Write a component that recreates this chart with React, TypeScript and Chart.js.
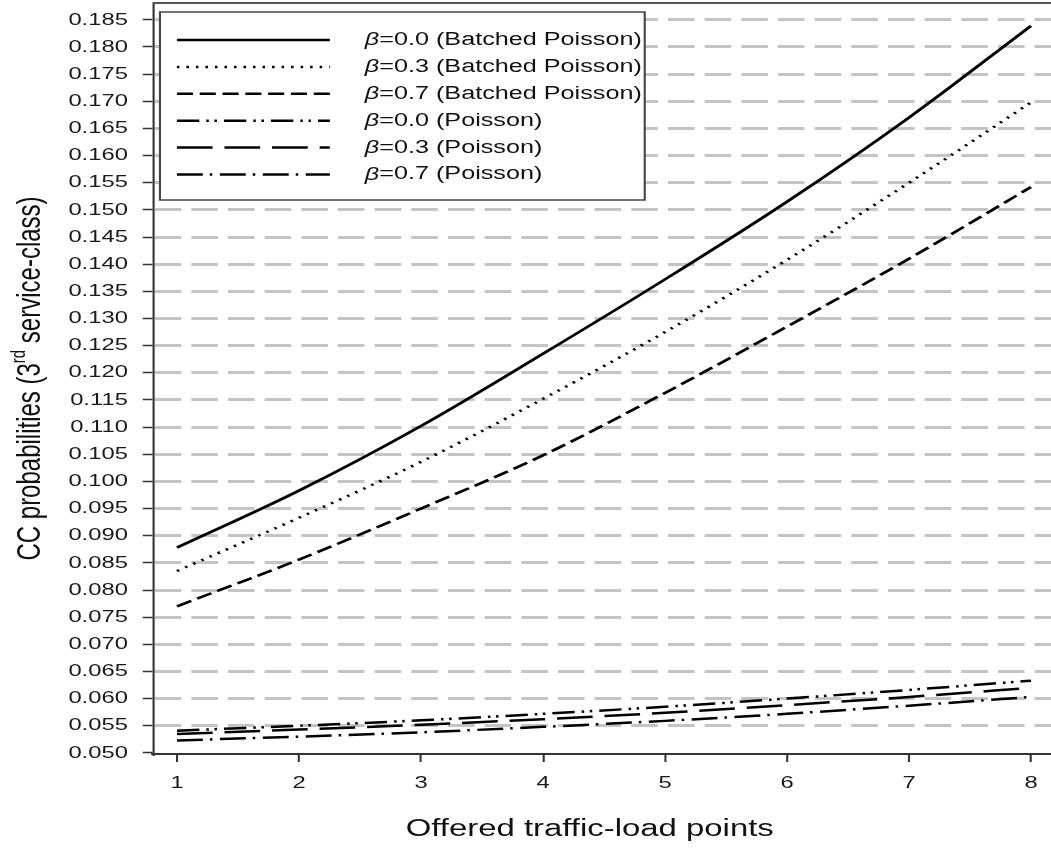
import React, { useEffect, useRef } from 'react';
import { Chart, registerables } from 'chart.js';

Chart.register(...registerables);

// ---- data ----
const loads = [1, 2, 3, 4, 5, 6, 7, 8];
const batched00 = [0.0878, 0.0983, 0.1102, 0.1235, 0.1372, 0.1515, 0.167, 0.1839];
const batched03 = [0.0835, 0.0933, 0.1036, 0.1152, 0.1275, 0.1408, 0.155, 0.1698];
const batched07 = [0.077, 0.0856, 0.095, 0.1048, 0.1163, 0.1285, 0.141, 0.1542];
const poisson00 = [0.0541, 0.055, 0.056, 0.0572, 0.0585, 0.06, 0.0616, 0.0633];
const poisson03 = [0.0535, 0.0543, 0.0552, 0.0562, 0.0574, 0.0588, 0.0603, 0.062];
const poisson07 = [0.0523, 0.053, 0.0538, 0.0548, 0.0559, 0.0572, 0.0587, 0.0603];
const seriesLabels = [
  '=0.0 (Batched Poisson)',
  '=0.3 (Batched Poisson)',
  '=0.7 (Batched Poisson)',
  '=0.0 (Poisson)',
  '=0.3 (Poisson)',
  '=0.7 (Poisson)',
];
const betaSymbol = 'β';
const yTickLabels = [
  '0.050', '0.055', '0.060', '0.065', '0.070', '0.075', '0.080', '0.085', '0.090', '0.095',
  '0.100', '0.105', '0.110', '0.115', '0.120', '0.125', '0.130', '0.135', '0.140', '0.145',
  '0.150', '0.155', '0.160', '0.165', '0.170', '0.175', '0.180', '0.185',
];
const xTickLabels = ['1', '2', '3', '4', '5', '6', '7', '8'];
const xTitle = 'Offered traffic-load points';
const yTitleParts = ['CC probabilities (3', 'rd', ' service-class)'];

// ---- styles ----
const W = 751;
const H = 848;
const OUT_W = 1051;
const SX = OUT_W / W;
const FONT = "'Liberation Sans', Arial, Helvetica, sans-serif";
const dashes: number[][] = [
  [],
  [1.8, 5],
  [11.5, 4.8],
  [16, 5, 1.8, 4, 1.8, 5],
  [25.5, 8.5],
  [18.5, 5, 1.8, 5.4],
];

export default function App() {
  const ref = useRef<HTMLCanvasElement>(null);

  useEffect(() => {
    const canvas = ref.current!;
    const allSeries = [batched00, batched03, batched07, poisson00, poisson03, poisson07];

    const stretchPlugin = {
      id: 'stretch',
      beforeDraw(chart: any) {
        chart.ctx.setTransform(SX, 0, 0, 1, 0, 0);
      },
    };

    const decorPlugin = {
      id: 'decor',
      afterDraw(chart: any) {
        const ctx = chart.ctx as CanvasRenderingContext2D;
        const ca = chart.chartArea;
        ctx.save();
        // top frame
        ctx.strokeStyle = '#555';
        ctx.lineWidth = 2;
        ctx.setLineDash([]);
        ctx.beginPath();
        ctx.moveTo(ca.left, ca.top);
        ctx.lineTo(ca.right, ca.top);
        ctx.stroke();

        // legend box
        const lx = ca.left + 5;
        const ly = ca.top + 9;
        const lw = 346.4;
        const lh = 188;
        ctx.fillStyle = '#fff';
        ctx.fillRect(lx, ly, lw, lh);
        ctx.strokeStyle = '#444';
        ctx.lineWidth = 1.5;
        ctx.strokeRect(lx, ly, lw, lh);

        const ds = chart.data.datasets;
        for (let i = 0; i < ds.length; i++) {
          const y = ly + 28 + i * 26.9;
          ctx.strokeStyle = '#000';
          ctx.lineWidth = 2.5;
          ctx.lineCap = 'butt';
          ctx.setLineDash(ds[i].borderDash || []);
          ctx.beginPath();
          ctx.moveTo(lx + 12.1, y);
          ctx.lineTo(lx + 121.4, y);
          ctx.stroke();
          ctx.setLineDash([]);
          ctx.fillStyle = '#111';
          ctx.textBaseline = 'middle';
          ctx.textAlign = 'left';
          ctx.font = `italic 18px ${FONT}`;
          const tx = lx + 146.4;
          ctx.fillText(betaSymbol, tx, y);
          const bw = ctx.measureText(betaSymbol).width;
          ctx.font = `18px ${FONT}`;
          ctx.fillText(seriesLabels[i], tx + bw, y);
        }

        // y title with superscript
        ctx.save();
        ctx.translate(22, (ca.top + ca.bottom) / 2);
        ctx.rotate(-Math.PI / 2);
        ctx.textBaseline = 'middle';
        ctx.textAlign = 'left';
        ctx.fillStyle = '#111';
        const big = `24px ${FONT}`;
        const small = `15px ${FONT}`;
        ctx.font = big;
        const w1 = ctx.measureText(yTitleParts[0]).width;
        const w3 = ctx.measureText(yTitleParts[2]).width;
        ctx.font = small;
        const w2 = ctx.measureText(yTitleParts[1]).width;
        let x = -(w1 + w2 + w3) / 2;
        ctx.font = big;
        ctx.fillText(yTitleParts[0], x, 0);
        x += w1;
        ctx.font = small;
        ctx.fillText(yTitleParts[1], x, -8);
        x += w2;
        ctx.font = big;
        ctx.fillText(yTitleParts[2], x, 0);
        ctx.restore();

        // x title
        ctx.font = `23.5px ${FONT}`;
        ctx.fillStyle = '#111';
        ctx.textAlign = 'center';
        ctx.textBaseline = 'middle';
        ctx.fillText(xTitle, 421.4, 830);
        ctx.restore();
      },
    };

    const chart = new Chart(canvas, {
      type: 'line',
      data: {
        datasets: allSeries.map((vals, i) => ({
          label: betaSymbol + seriesLabels[i],
          data: loads.map((x, j) => ({ x, y: vals[j] })),
          borderColor: '#000',
          backgroundColor: '#000',
          borderWidth: 2.5,
          borderDash: dashes[i],
          borderCapStyle: 'butt',
          pointRadius: 0,
          fill: false,
          cubicInterpolationMode: 'monotone',
        })),
      },
      options: {
        responsive: false,
        animation: false,
        devicePixelRatio: 1,
        layout: { padding: { top: 3, left: 0, right: 0, bottom: 0 } },
        plugins: { legend: { display: false }, tooltip: { enabled: false } },
        scales: {
          x: {
            type: 'linear',
            min: 0.803,
            max: 8.164,
            afterBuildTicks: (scale: any) => {
              scale.ticks = xTickLabels.map((s) => ({ value: parseFloat(s) }));
            },
            afterFit: (scale: any) => {
              scale.height = 94;
              scale.paddingLeft = 0;
              scale.paddingRight = 0;
            },
            ticks: {
              autoSkip: false,
              maxRotation: 0,
              padding: 11,
              color: '#1a1a1a',
              font: { family: FONT, size: 17 },
              callback: (_v: any, i: number) => xTickLabels[i],
            },
            grid: {
              drawOnChartArea: false,
              drawTicks: true,
              tickLength: 8,
              tickColor: '#333',
              tickWidth: 1.5,
            },
            border: { display: true, color: '#333', width: 2 },
          },
          y: {
            type: 'linear',
            min: 0.0498,
            max: 0.1881,
            afterBuildTicks: (scale: any) => {
              scale.ticks = yTickLabels.map((s) => ({ value: parseFloat(s) }));
            },
            afterFit: (scale: any) => {
              scale.width = 109.3;
              scale.paddingTop = 0;
              scale.paddingBottom = 0;
            },
            ticks: {
              autoSkip: false,
              padding: 10.6,
              color: '#1a1a1a',
              font: { family: FONT, size: 17 },
              callback: (_v: any, i: number) => yTickLabels[i],
            },
            grid: {
              color: (c: any) =>
                c.tick && Math.abs(c.tick.value - 0.05) < 1e-9 ? 'rgba(0,0,0,0)' : '#c4c4c4',
              lineWidth: 3,
              drawTicks: true,
              tickLength: 7.3,
              tickColor: '#333',
              tickWidth: 1.5,
              tickBorderDash: [],
            },
            border: { display: true, color: '#333', width: 1.5, dash: [19, 7.2] },
          },
        },
      },
      plugins: [stretchPlugin, decorPlugin],
    } as any);

    canvas.width = OUT_W;
    chart.draw();

    return () => {
      chart.destroy();
    };
  }, []);

  return (
    <canvas
      ref={ref}
      width={W}
      height={H}
      style={{ position: 'absolute', left: 0, top: 0, width: OUT_W + 'px', height: H + 'px' }}
    />
  );
}
